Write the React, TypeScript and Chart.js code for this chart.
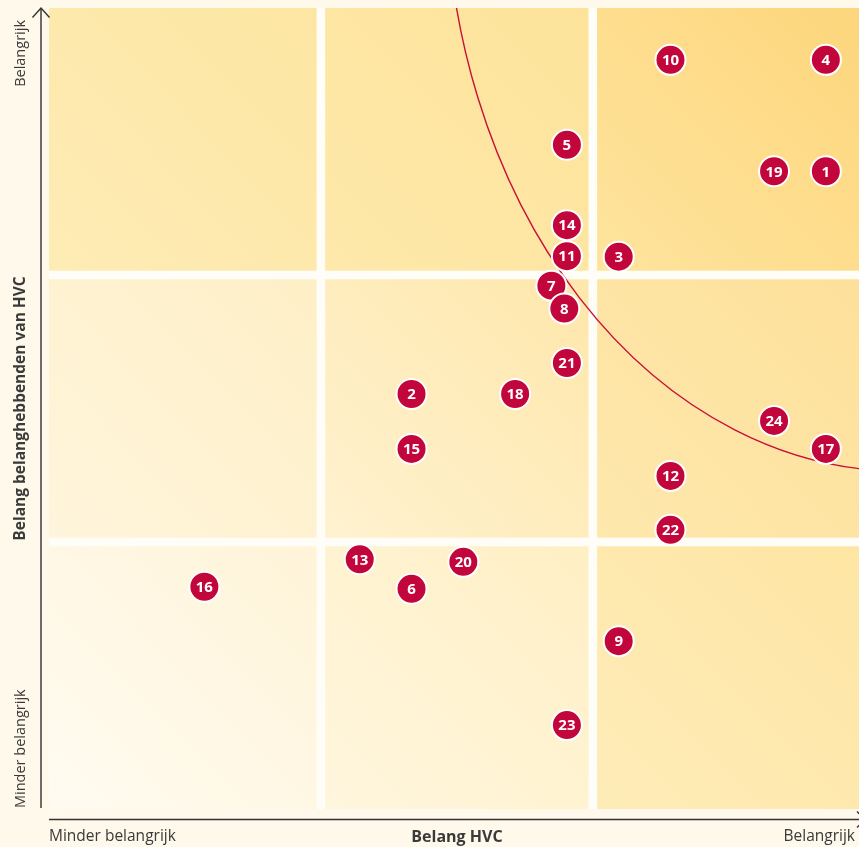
import React, { useEffect, useRef } from "react";
import { Chart, registerables } from "chart.js";

Chart.register(...registerables);

// Topic numbers (drawn top to bottom so lower circles overlap upper ones)
const topicIds = ["10", "4", "5", "19", "1", "14", "11", "3", "7", "8", "21", "2", "18", "24", "17", "15", "12", "22", "13", "20", "16", "6", "9", "23"];
// Belang HVC (horizontal score)
const hvcScores = [12, 15, 10, 14, 15, 10, 10, 11, 9.7, 9.95, 10, 7, 9, 14, 15, 7, 12, 12, 6, 8, 3, 7, 11, 10];
// Belang belanghebbenden (vertical score)
const stakeholderScores = [14.73, 14.73, 13.06, 12.54, 12.54, 11.48, 10.87, 10.86, 10.29, 9.84, 8.77, 8.16, 8.16, 7.63, 7.08, 7.08, 6.55, 5.49, 4.91, 4.86, 4.37, 4.33, 3.3, 1.65];

// Axis extents and the three bands per axis
const xMin = 0;
const xVisibleMax = 15.64;
const axisFull = 15.75;
const bandEdges = [5.25, 10.5];

// Threshold curve (ellipse arc) in data units: centre and radii
const curveCenter = [16.49, 18.27];
const curveRadii = [8.83, 11.63];

// Axis texts
const xAxisTitle = "Belang HVC";
const yAxisTitle = "Belang belanghebbenden van HVC";
const lowLabel = "Minder belangrijk";
const highLabel = "Belangrijk";

// Cell colours [row][col] (row 0 = bottom), each [light corner, dark corner]
const cellColors = [
  [["#fffbf1", "#fff4d8"], ["#fff6de", "#ffefc4"], ["#feecb8", "#fee5a3"]],
  [["#fff5dc", "#feefc6"], ["#fff2d0", "#fee7ab"], ["#fee8ad", "#fde09a"]],
  [["#feecb6", "#fde6a2"], ["#fee9ab", "#fde39a"], ["#fee49e", "#fdd67c"]],
];

const PAGE_BG = "#fef9ea";
const GAP_COLOR = "#fffdf7";
const POINT_COLOR = "#c2063c";
const CURVE_COLOR = "#c8103a";
const TEXT_COLOR = "#3a3a3a";
const FONT = "'Open Sans', 'Noto Sans', sans-serif";

const backgroundPlugin = {
  id: "matrixBackground",
  beforeDatasetsDraw(chart: any) {
    const { ctx, chartArea, scales } = chart;
    const xs = scales.x;
    const ys = scales.y;
    const xb = [xMin, ...bandEdges, axisFull];
    const yb = [0, ...bandEdges, axisFull];
    ctx.save();
    ctx.beginPath();
    ctx.rect(chartArea.left, chartArea.top, chartArea.right - chartArea.left, chartArea.bottom - chartArea.top);
    ctx.clip();
    ctx.fillStyle = GAP_COLOR;
    ctx.fillRect(chartArea.left, chartArea.top, chartArea.right - chartArea.left, chartArea.bottom - chartArea.top);
    const half = 4.3;
    for (let r = 0; r < 3; r++) {
      for (let c = 0; c < 3; c++) {
        let l = xs.getPixelForValue(xb[c]);
        let rr = xs.getPixelForValue(xb[c + 1]);
        let b = ys.getPixelForValue(yb[r]);
        let t = ys.getPixelForValue(yb[r + 1]);
        if (c > 0) l += half;
        if (c < 2) rr -= half;
        if (r > 0) b -= half;
        if (r < 2) t += half;
        const g = ctx.createLinearGradient(l, b, rr, t);
        g.addColorStop(0, cellColors[r][c][0]);
        g.addColorStop(1, cellColors[r][c][1]);
        ctx.fillStyle = g;
        ctx.fillRect(l, t, rr - l, b - t);
      }
    }
    // threshold curve
    const cx = xs.getPixelForValue(curveCenter[0]);
    const cy = ys.getPixelForValue(curveCenter[1]);
    const rx = Math.abs(xs.getPixelForValue(curveCenter[0] + curveRadii[0]) - cx);
    const ry = Math.abs(ys.getPixelForValue(curveCenter[1] + curveRadii[1]) - cy);
    ctx.beginPath();
    ctx.ellipse(cx, cy, rx, ry, 0, 0, Math.PI * 2);
    ctx.strokeStyle = CURVE_COLOR;
    ctx.lineWidth = 1.4;
    ctx.stroke();
    ctx.restore();
  },
};

const axesPlugin = {
  id: "matrixAxes",
  afterDraw(chart: any) {
    const { ctx, chartArea } = chart;
    const axX = chartArea.left - 8;
    const axY = chartArea.bottom + 10.5;
    ctx.save();
    ctx.strokeStyle = "#333333";
    ctx.lineWidth = 1.4;
    // y axis with arrow
    ctx.beginPath();
    ctx.moveTo(axX, chartArea.bottom - 1);
    ctx.lineTo(axX, chartArea.top);
    ctx.stroke();
    ctx.beginPath();
    ctx.moveTo(axX - 8.5, chartArea.top + 9.5);
    ctx.lineTo(axX, chartArea.top);
    ctx.lineTo(axX + 8.5, chartArea.top + 9.5);
    ctx.stroke();
    // x axis with arrow
    const tipX = chartArea.right + 6;
    ctx.beginPath();
    ctx.moveTo(chartArea.left, axY);
    ctx.lineTo(tipX, axY);
    ctx.stroke();
    ctx.beginPath();
    ctx.moveTo(tipX - 8, axY - 8);
    ctx.lineTo(tipX, axY);
    ctx.lineTo(tipX - 8, axY + 8);
    ctx.stroke();

    // texts
    ctx.fillStyle = TEXT_COLOR;
    ctx.textBaseline = "middle";
    const ty = chartArea.bottom + 28;
    ctx.font = `15.5px ${FONT}`;
    ctx.textAlign = "left";
    ctx.fillText(lowLabel, chartArea.left, ty);
    ctx.textAlign = "right";
    ctx.fillText(highLabel, chartArea.right - 4, ty);
    ctx.font = `bold 16px ${FONT}`;
    ctx.textAlign = "center";
    ctx.fillText(xAxisTitle, (chartArea.left + chartArea.right + 6) / 2, ty);

    // vertical texts
    ctx.translate(21, 0);
    ctx.rotate(-Math.PI / 2);
    ctx.font = `14.5px ${FONT}`;
    ctx.textAlign = "right";
    ctx.fillText(highLabel, -(chartArea.top + 12), 0);
    ctx.textAlign = "left";
    ctx.fillText(lowLabel, -(chartArea.bottom - 1), 0);
    ctx.font = `bold 15.5px ${FONT}`;
    ctx.textAlign = "center";
    ctx.fillText(yAxisTitle, -(chartArea.top + chartArea.bottom) / 2, 0);
    ctx.restore();
  },
};

const labelPlugin = {
  id: "pointLabels",
  afterDatasetsDraw(chart: any) {
    const { ctx } = chart;
    const meta = chart.getDatasetMeta(0);
    ctx.save();
    ctx.fillStyle = "#ffffff";
    ctx.font = `bold 15px ${FONT}`;
    ctx.textAlign = "center";
    ctx.textBaseline = "middle";
    meta.data.forEach((el: any, i: number) => {
      ctx.fillText(topicIds[i], el.x, el.y + 1);
    });
    ctx.restore();
  },
};

export default function App() {
  const canvasRef = useRef<HTMLCanvasElement | null>(null);

  useEffect(() => {
    if (!canvasRef.current) return;
    const points = hvcScores.map((x, i) => ({ x, y: stakeholderScores[i] }));
    const chart = new Chart(canvasRef.current, {
      type: "scatter",
      data: {
        datasets: [
          {
            data: points,
            pointRadius: 15,
            pointHoverRadius: 15,
            pointBackgroundColor: POINT_COLOR,
            pointBorderColor: "#ffffff",
            pointBorderWidth: 2,
            pointHoverBorderWidth: 2,
            clip: false,
          },
        ],
      },
      options: {
        responsive: false,
        animation: false,
        layout: { autoPadding: false, padding: { left: 49, top: 8, right: 0, bottom: 38 } },
        plugins: { legend: { display: false }, tooltip: { enabled: false } },
        events: [],
        scales: {
          x: { type: "linear", min: xMin, max: xVisibleMax, display: false },
          y: { type: "linear", min: 0, max: axisFull, display: false },
        },
      },
      plugins: [backgroundPlugin, labelPlugin, axesPlugin],
    });
    return () => chart.destroy();
  }, []);

  return (
    <div style={{ position: "absolute", left: 0, top: 0, width: 859, height: 847, background: PAGE_BG, overflow: "hidden" }}>
      <canvas ref={canvasRef} width={859} height={847} style={{ display: "block" }} />
    </div>
  );
}
